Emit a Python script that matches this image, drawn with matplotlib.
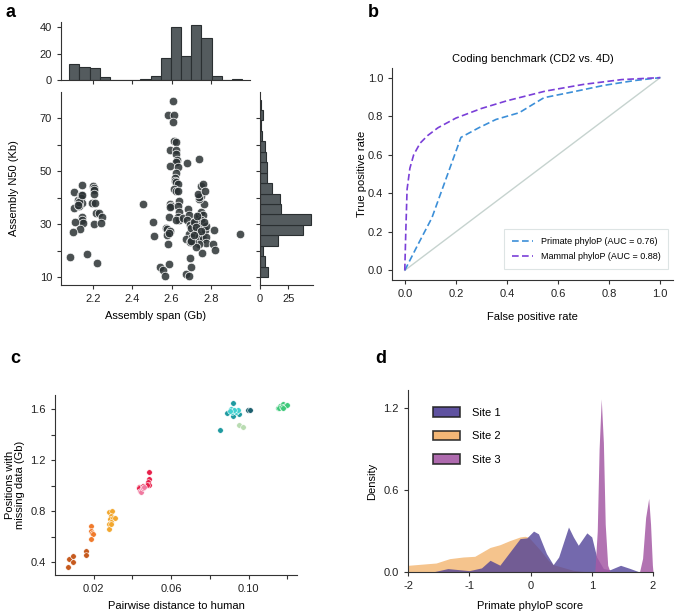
import matplotlib
matplotlib.use("Agg")
import matplotlib.pyplot as plt
from matplotlib.patches import Patch
import numpy as np

plt.rcParams['font.family'] = ['Liberation Sans', 'DejaVu Sans']
plt.rcParams['axes.edgecolor'] = '#333333'
plt.rcParams['xtick.color'] = '#333333'
plt.rcParams['ytick.color'] = '#333333'
plt.rcParams['xtick.labelcolor'] = '#222222'
plt.rcParams['ytick.labelcolor'] = '#222222'
plt.rcParams['axes.linewidth'] = 0.8

# ---- panel a: assembly span vs N50 ----
span_gb = [2.144, 2.200, 2.205, 2.205, 2.100, 2.136, 2.202, 2.124, 2.136, 2.144,
           2.195, 2.210, 2.100, 2.129, 2.212, 2.229, 2.242, 2.141, 2.144, 2.147,
           2.107, 2.205, 2.239, 2.132, 2.098, 2.083, 2.166, 2.217, 2.125, 2.140,
           2.120,
           2.454, 2.507, 2.512,
           2.607, 2.583, 2.613, 2.608, 2.613, 2.624, 2.593, 2.624, 2.624, 2.627,
           2.622, 2.680, 2.739, 2.590, 2.631, 2.620, 2.615, 2.619, 2.624, 2.632,
           2.612, 2.622, 2.634, 2.639, 2.590, 2.598, 2.593, 2.634, 2.637, 2.632,
           2.639, 2.585, 2.620, 2.658, 2.569, 2.578, 2.593, 2.576, 2.586, 2.581,
           2.539, 2.556, 2.566, 2.586, 2.671, 2.697, 2.688, 2.692, 2.754, 2.949,
           2.683, 2.688, 2.680, 2.695, 2.717, 2.734, 2.742, 2.751, 2.759, 2.751,
           2.742, 2.717, 2.729, 2.746, 2.759, 2.768, 2.773, 2.763, 2.688, 2.675,
           2.705, 2.725, 2.739, 2.759, 2.776, 2.773, 2.742, 2.708, 2.692, 2.722,
           2.700, 2.814, 2.763, 2.751, 2.742, 2.739, 2.734, 2.751, 2.759, 2.768,
           2.810, 2.819, 2.700, 2.712, 2.726, 2.748, 2.716, 2.730]
n50_kb = [44.7, 44.3, 43.6, 42.9, 42.1, 41.1, 41.4, 39.2, 39.9, 37.9,
          37.9, 37.9, 36.2, 36.8, 34.3, 34.4, 32.9, 32.6, 31.6, 30.6,
          30.8, 30.0, 30.5, 28.2, 27.2, 17.7, 18.7, 15.2, 38.5, 40.9,
          37.2,
          37.7, 30.9, 25.5,
          76.7, 71.3, 71.3, 68.7, 61.5, 60.9, 58.2, 58.1, 56.5, 54.3,
          53.4, 53.3, 54.7, 51.9, 51.8, 49.4, 47.5, 46.5, 45.8, 45.2,
          43.3, 42.7, 42.7, 38.9, 37.7, 37.0, 36.4, 36.8, 34.5, 32.6,
          31.4, 32.9, 31.4, 32.3, 28.6, 28.2, 27.6, 26.0, 26.7, 22.6,
          13.8, 12.5, 10.4, 15.0, 11.3, 13.8, 10.4, 17.2, 19.1, 26.4,
          35.8, 33.5, 31.4, 29.6, 30.8, 32.6, 33.6, 34.5, 33.3, 31.4,
          29.5, 28.2, 27.0, 26.4, 26.4, 27.9, 29.5, 30.8, 26.4, 24.5,
          25.1, 23.2, 25.3, 24.5, 25.1, 22.8, 22.6, 23.2, 23.2, 21.3,
          23.8, 27.9, 37.7, 40.8, 39.6, 40.2, 41.4, 44.6, 45.2, 42.7,
          22.6, 20.1, 28.5, 31.0, 29.0, 27.5, 25.8, 33.0]

span_bin_start = 2.077
span_bin_width = 0.0519
span_counts = [12, 10, 9, 2, 0, 0, 0, 1, 3, 17, 40, 18, 42, 32, 3, 0, 1]

n50_bin_start = 10.0
n50_bin_width = 3.95
n50_counts = [7, 4, 3, 16, 38, 45, 19, 18, 11, 6, 6, 5, 4, 2, 1, 3, 1]

# ---- panel b: ROC ----
primate_fpr = [0, 0.05, 0.106, 0.22, 0.29, 0.357, 0.448, 0.50, 0.545, 0.654, 0.78, 0.9, 1.0]
primate_tpr = [0, 0.13, 0.272, 0.69, 0.74, 0.783, 0.818, 0.86, 0.896, 0.925, 0.96, 0.985, 1.0]
mammal_fpr = [0, 0.004, 0.009, 0.02, 0.035, 0.06, 0.09, 0.13, 0.2, 0.3, 0.4, 0.55, 0.7, 0.85, 1.0]
mammal_tpr = [0, 0.2, 0.42, 0.53, 0.6, 0.66, 0.7, 0.74, 0.79, 0.84, 0.88, 0.93, 0.965, 0.99, 1.0]

# ---- panel c: distance vs missing data, one list per group ----
c_groups = [
    ('#c65a1e', [0.0070, 0.0091, 0.0091, 0.0068, 0.0161, 0.0161],
                [0.426, 0.452, 0.405, 0.361, 0.491, 0.455]),
    ('#f07a2c', [0.0188, 0.0185, 0.0190, 0.0198, 0.0188],
                [0.682, 0.648, 0.629, 0.622, 0.585]),
    ('#f2a72e', [0.0277, 0.0292, 0.0287, 0.0282, 0.0299, 0.0308, 0.0287, 0.0277, 0.0279, 0.0290],
                [0.791, 0.799, 0.762, 0.739, 0.744, 0.744, 0.713, 0.700, 0.661, 0.700]),
    ('#e8204a', [0.0487, 0.0484, 0.0479, 0.0487, 0.0474, 0.0436, 0.0436, 0.0455],
                [1.107, 1.052, 1.026, 1.005, 1.005, 0.992, 0.979, 0.995]),
    ('#f07aa0', [0.0440, 0.0444, 0.0453, 0.0462],
                [0.961, 0.948, 0.981, 0.992]),
    ('#1f9aa0', [0.0853, 0.0918, 0.0889, 0.0950, 0.0918],
                [1.436, 1.645, 1.567, 1.562, 1.548]),
    ('#40d0d0', [0.0907, 0.0916, 0.0933, 0.0946, 0.0926, 0.0904],
                [1.600, 1.580, 1.574, 1.593, 1.593, 1.588]),
    ('#1c5f6e', [0.0995, 0.1005], [1.595, 1.595]),
    ('#b9dcb2', [0.0950, 0.0969], [1.475, 1.457]),
    ('#3ec97a', [0.1150, 0.1162, 0.1176, 0.1188, 0.1197, 0.1158, 0.1170, 0.1178],
                [1.606, 1.627, 1.640, 1.627, 1.632, 1.609, 1.619, 1.609]),
]

# ---- panel d: density of primate phyloP ----
site1_x = [-2.0, -1.6, -1.35, -1.0, -0.8, -0.66, -0.5, -0.17, -0.06, 0.05, 0.13, 0.26, 0.37,
           0.46, 0.62, 0.70, 0.78, 0.92, 1.0, 1.08, 1.19, 1.30, 1.47, 1.63, 1.78, 2.0]
site1_y = [0.0, 0.0, 0.025, 0.01, 0.03, 0.086, 0.05, 0.245, 0.25, 0.30, 0.28, 0.135, 0.054,
           0.11, 0.33, 0.257, 0.196, 0.287, 0.257, 0.11, 0.025, 0.017, 0.049, 0.025, 0.0, 0.0]
site2_x = [-2.0, -1.54, -1.32, -1.1, -0.91, -0.66, -0.5, -0.34, -0.17, -0.09, -0.03, 0.16,
           0.29, 0.37, 0.7, 0.95, 2.0]
site2_y = [0.049, 0.066, 0.098, 0.11, 0.115, 0.18, 0.20, 0.23, 0.257, 0.262, 0.255, 0.16,
           0.086, 0.054, 0.012, 0.0, 0.0]
site3_x = [-2.0, 1.05, 1.09, 1.12, 1.155, 1.19, 1.22, 1.26, 1.30, 1.78, 1.83, 1.88, 1.93,
           1.96, 1.99, 2.0]
site3_y = [0.0, 0.0, 0.3, 0.9, 1.27, 0.95, 0.35, 0.05, 0.0, 0.0, 0.1, 0.4, 0.54, 0.35, 0.05, 0.0]
site_names = ['Site 1', 'Site 2', 'Site 3']
site_colors = ['#4d3f96', '#f2b067', '#a55aa5']

W, H = 676, 613
fig = plt.figure(figsize=(W / 100, H / 100), dpi=100)


def px_axes(x0, y0, x1, y1):
    return fig.add_axes([x0 / W, 1 - y1 / H, (x1 - x0) / W, (y1 - y0) / H])


def despine(ax):
    ax.spines['top'].set_visible(False)
    ax.spines['right'].set_visible(False)


tick_fs = 8
label_fs = 8

# panel a
ax_top = px_axes(61, 22, 250, 80)
ax_main = px_axes(61, 92, 250, 285)
ax_right = px_axes(260, 92, 313, 285)
for ax in (ax_top, ax_main, ax_right):
    despine(ax)
    ax.tick_params(labelsize=tick_fs, length=3, width=0.8)

hist_face = '#545b5e'
hist_edge = '#2a2f31'
edges = span_bin_start + span_bin_width * np.arange(len(span_counts))
ax_top.bar(edges, span_counts, width=span_bin_width, align='edge',
           color=hist_face, edgecolor=hist_edge, linewidth=0.8)
ax_top.set_xlim(2.035, 3.0)
ax_top.set_ylim(0, 44)
ax_top.set_yticks([0, 20, 40])
ax_top.set_xticks([2.2, 2.4, 2.6, 2.8])
ax_top.set_xticklabels([])

ax_main.scatter(span_gb, n50_kb, s=38, color='#2b3234', alpha=0.85,
                edgecolor='white', linewidth=0.6, zorder=3)
ax_main.set_xlim(2.035, 3.0)
ax_main.set_ylim(7, 80)
ax_main.set_xticks([2.2, 2.4, 2.6, 2.8])
ax_main.set_yticks([10, 20, 30, 40, 50, 60, 70])
ax_main.set_yticklabels(['10', '', '30', '', '50', '', '70'])
ax_main.set_xlabel('Assembly span (Gb)', fontsize=label_fs, labelpad=5)
ax_main.set_ylabel('Assembly N50 (Kb)', fontsize=label_fs)
ax_main.yaxis.set_label_coords(-0.222, 0.5)

y_edges = n50_bin_start + n50_bin_width * np.arange(len(n50_counts))
ax_right.barh(y_edges, n50_counts, height=n50_bin_width, align='edge',
              color=hist_face, edgecolor=hist_edge, linewidth=0.8)
ax_right.set_ylim(7, 80)
ax_right.set_xlim(0, 47)
ax_right.set_xticks([0, 25])
ax_right.set_yticks([10, 20, 30, 40, 50, 60, 70])
ax_right.set_yticklabels([])

# panel b
ax_b = px_axes(392, 68, 673, 280)
despine(ax_b)
ax_b.plot([0, 1], [0, 1], color='#c6d3cf', linewidth=1.0)
ax_b.plot(primate_fpr, primate_tpr, linestyle=(0, (4, 2)), color='#3c8fd8',
          linewidth=1.2, label='Primate phyloP (AUC = 0.76)')
ax_b.plot(mammal_fpr, mammal_tpr, linestyle=(0, (4, 2)), color='#7a3fd8',
          linewidth=1.2, label='Mammal phyloP (AUC = 0.88)')
ax_b.set_xlim(-0.05, 1.05)
ax_b.set_ylim(-0.05, 1.05)
ticks_b = [0, 0.2, 0.4, 0.6, 0.8, 1.0]
ax_b.set_xticks(ticks_b)
ax_b.set_yticks(ticks_b)
ax_b.set_xticklabels(['%.1f' % t for t in ticks_b])
ax_b.set_yticklabels(['%.1f' % t for t in ticks_b])
ax_b.tick_params(labelsize=tick_fs, length=3, width=0.8)
ax_b.set_title('Coding benchmark (CD2 vs. 4D)', fontsize=label_fs, pad=4)
ax_b.set_xlabel('False positive rate', fontsize=label_fs, labelpad=9)
ax_b.set_ylabel('True positive rate', fontsize=label_fs)
ax_b.yaxis.set_label_coords(-0.089, 0.5)
leg = ax_b.legend(loc='lower right', fontsize=6.5, frameon=True, fancybox=False,
                  handlelength=2.4, borderpad=0.9, labelspacing=0.7,
                  bbox_to_anchor=(1.0, 0.03))
leg.get_frame().set_edgecolor('#d5dede')
leg.get_frame().set_linewidth(0.8)

# panel c
ax_c = px_axes(55, 395, 297, 575)
despine(ax_c)
for col, xs, ys in c_groups:
    ax_c.scatter(xs, ys, s=16, color=col, edgecolor='white', linewidth=0.4, zorder=3)
ax_c.set_xlim(0, 0.125)
ax_c.set_ylim(0.3, 1.71)
ax_c.set_xticks([0.02, 0.04, 0.06, 0.08, 0.10, 0.12])
ax_c.set_xticklabels(['0.02', '', '0.06', '', '0.10', ''])
ax_c.set_yticks([0.4, 0.6, 0.8, 1.0, 1.2, 1.4, 1.6])
ax_c.set_yticklabels(['0.4', '', '0.8', '', '1.2', '', '1.6'])
ax_c.tick_params(labelsize=tick_fs, length=3, width=0.8)
ax_c.set_xlabel('Pairwise distance to human', fontsize=label_fs, labelpad=5)
ax_c.set_ylabel('Positions with\nmissing data (Gb)', fontsize=label_fs, linespacing=1.0)
ax_c.yaxis.set_label_coords(-0.125, 0.5)

# panel d
ax_d = px_axes(408, 390, 653, 572)
despine(ax_d)
ax_d.fill_between(site2_x, site2_y, color=site_colors[1], alpha=0.75, linewidth=0)
ax_d.fill_between(site1_x, site1_y, color=site_colors[0], alpha=0.78, linewidth=0)
ax_d.fill_between(site3_x, site3_y, color=site_colors[2], alpha=0.85, linewidth=0)
ax_d.set_xlim(-2, 2)
ax_d.set_ylim(0, 1.335)
ax_d.set_xticks([-2, -1, 0, 1, 2])
ax_d.set_xticklabels(['-2', '-1', '0', '1', '2'])
ax_d.set_yticks([0, 0.6, 1.2])
ax_d.set_yticklabels(['0.0', '0.6', '1.2'])
ax_d.tick_params(labelsize=tick_fs, length=3, width=0.8)
ax_d.set_xlabel('Primate phyloP score', fontsize=label_fs, labelpad=7)
ax_d.set_ylabel('Density', fontsize=label_fs)
ax_d.yaxis.set_label_coords(-0.127, 0.5)
handles = [Patch(facecolor=c, edgecolor='#222222', linewidth=1.2, alpha=0.9) for c in site_colors]
ax_d.legend(handles, site_names, loc='upper left', bbox_to_anchor=(0.06, 0.96),
            frameon=False, fontsize=8, handlelength=2.5, handleheight=0.95,
            labelspacing=1.15, handletextpad=1.0)

# panel letters
for letter, x, y in [('a', 6, 4), ('b', 368, 4), ('c', 10, 350), ('d', 375, 350)]:
    fig.text(x / W, 1 - y / H, letter, fontsize=13, fontweight='bold', va='top', ha='left')

fig.savefig('out.png', dpi=100)
